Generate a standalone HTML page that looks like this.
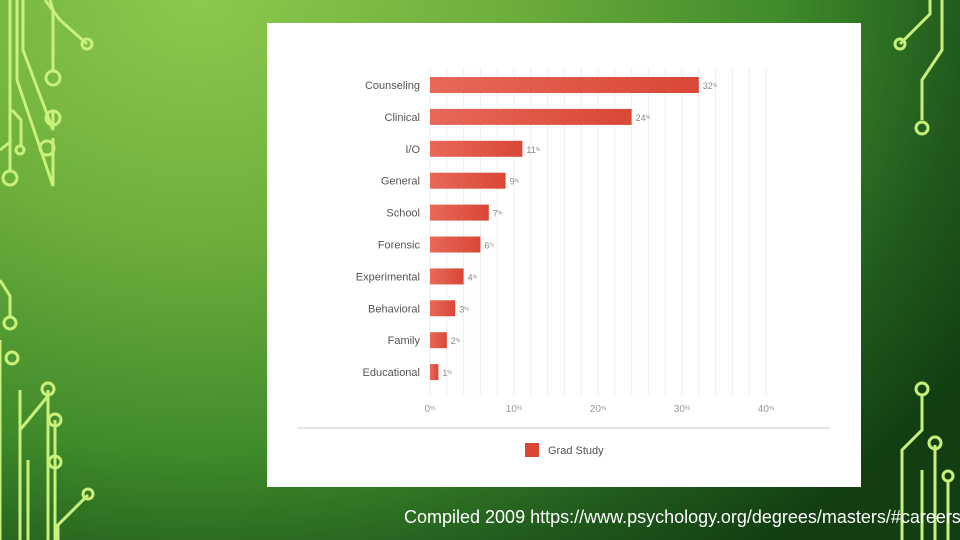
<!DOCTYPE html>
<html><head><meta charset="utf-8"><style>
body{margin:0;width:960px;height:540px;overflow:hidden;font-family:"Liberation Sans",sans-serif;}
#bg{position:absolute;left:0;top:0;width:960px;height:540px;background:radial-gradient(ellipse 900px 700px at 200px 0px,#8cc84e 0%,#6cae3c 35%,#3f8a2a 65%,#1f5a1c 85%,#123e12 100%);}
#card{position:absolute;left:267px;top:23px;width:594px;height:464px;background:#fff;}
#cap{position:absolute;left:404px;top:507px;color:#fff;font-size:18px;white-space:nowrap;letter-spacing:0px;}
</style></head><body>
<div id="bg"></div>
<svg width="960" height="540" style="position:absolute;left:0;top:0" fill="none" stroke="#c8f07a" stroke-width="3">
<path d="M10 0V170M17 0V80l36 106V138M23 0V50l30 80V112M45 0L60 20l27 24M50 0l3 10V72M0 150l10-8M12 110l9 10V145"/>
<circle cx="87" cy="44" r="5"/><circle cx="53" cy="78" r="7"/><circle cx="53" cy="118" r="7"/><circle cx="47" cy="148" r="7"/><circle cx="20" cy="150" r="4"/><circle cx="10" cy="178" r="7"/>
<path d="M0 280l10 16V316M0 340V540M20 390V540M48 390V540M55 420V540M28 460V540M88 495l-30 30V540M48 396L20 430"/>
<circle cx="10" cy="323" r="6"/><circle cx="12" cy="358" r="6"/><circle cx="48" cy="389" r="6"/><circle cx="55" cy="420" r="6"/><circle cx="55" cy="462" r="6"/><circle cx="88" cy="494" r="5"/>
<path d="M900 44l30-30V0M922 120V80l20-30V0"/><circle cx="900" cy="44" r="5"/><circle cx="922" cy="128" r="6"/>
<path d="M922 396V430l-20 20V540M935 445V540M948 480V540M922 470V540"/><circle cx="922" cy="389" r="6"/><circle cx="935" cy="443" r="6"/><circle cx="948" cy="476" r="5"/>
</svg>
<div id="card">
<svg id="chart" width="594" height="464">
<defs><linearGradient id="g" x1="0" x2="1"><stop offset="0" stop-color="#e8685a"/><stop offset="1" stop-color="#d94736"/></linearGradient></defs>
</svg></div>
<div id="cap">Compiled 2009 https://www.psychology.org/degrees/masters/#careers</div>
<script>
const categories=["Counseling","Clinical","I/O","General","School","Forensic","Experimental","Behavioral","Family","Educational"];
const values=[32,24,11,9,7,6,4,3,2,1];
const ticks=[0,10,20,30,40];
const legendLabel="Grad Study";
const svg=document.getElementById('chart');const NS="http://www.w3.org/2000/svg";
const ox=267,oy=23;
const x=v=>430-ox+v*8.4;
const y=i=>85-oy+i*31.9;
function mk(t,a,txt){const e=document.createElementNS(NS,t);for(const k in a)e.setAttribute(k,a[k]);if(txt!==undefined)e.textContent=txt;svg.appendChild(e);return e;}
for(let v=0;v<=40;v+=2){const g=mk('line',{x1:x(v),x2:x(v),y1:45,y2:372,stroke:'#ececec','stroke-width':1});

}
ticks.forEach(t=>{const e=mk('text',{x:x(t),y:389,'font-size':10,fill:'#999','text-anchor':'middle'},t);


const s=document.createElementNS(NS,'tspan');s.setAttribute('font-size','6');s.setAttribute('dy','-2');s.textContent='%';e.appendChild(s);});
categories.forEach((c,i)=>{
const l=mk('text',{x:x(0)-10,y:y(i)+4,'font-size':11,fill:'#555','text-anchor':'end'},c);


const b=mk('rect',{x:x(0),y:y(i)-8,width:x(values[i])-x(0),height:16,fill:'url(#g)'});


const v=mk('text',{x:x(values[i])+4,y:y(i)+4,'font-size':9,fill:'#888'},values[i]);


const s=document.createElementNS(NS,'tspan');s.setAttribute('font-size','5');s.setAttribute('dy','-2');s.textContent='%';v.appendChild(s);
});
const sep=mk('line',{x1:30,x2:563,y1:405,y2:405,stroke:'#ddd','stroke-width':1.5});


const lr=mk('rect',{x:258,y:420,width:14,height:14,fill:'#d94736'});


const lt=mk('text',{x:281,y:431,'font-size':11,fill:'#555'},legendLabel);


</script>
</body></html>
